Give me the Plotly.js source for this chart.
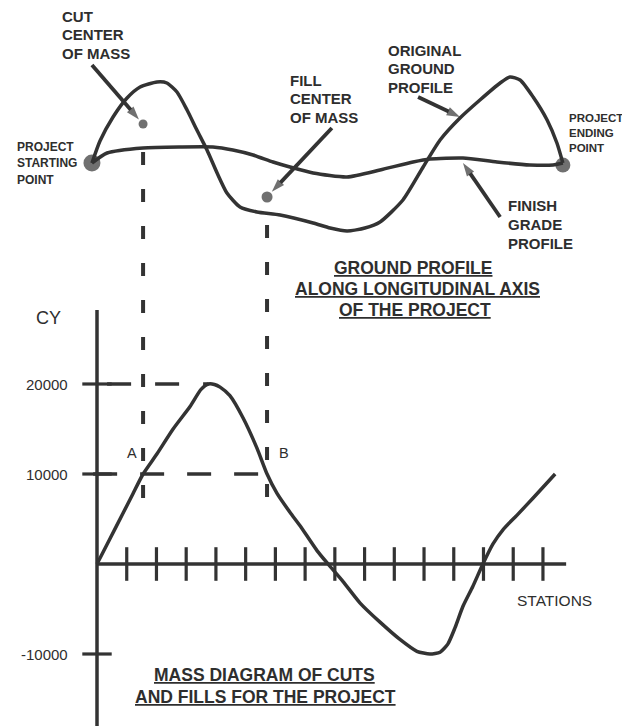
<!DOCTYPE html>
<html>
<head>
<meta charset="utf-8">
<script src="https://cdn.plot.ly/plotly-3.0.1.min.js"></script>
<style>html,body{margin:0;padding:0;background:#fff;}#chart{width:622px;height:726px;}</style>
</head>
<body>
<div id="chart"></div>
<script>
// ---------- DATA ----------
// Mass diagram (stations vs cumulative CY)
const massStations = [0, 0.44, 0.87, 1.21, 1.55, 2.02, 2.56, 3.13, 3.50, 3.75, 3.95, 4.14, 4.47, 4.91, 5.38, 5.72, 6.05, 6.49, 6.83, 7.40, 7.77, 8.27, 8.85, 9.52, 10.19, 10.76, 11.20, 11.54, 11.80, 12.04, 12.31, 12.64, 12.98, 13.32, 13.66, 14.13, 14.67, 15.41];
const massCY = [0, 2840, 5610, 7810, 10000, 12250, 15000, 17500, 19400, 20000, 19950, 19650, 18700, 16250, 12875, 10000, 7870, 5750, 4250, 1490, 0, -1920, -4340, -6460, -8380, -9700, -10000, -9800, -8900, -7100, -4700, -2500, 0, 2230, 3830, 5430, 7340, 10000];
const stationTicks = [1, 2, 3, 4, 5, 6, 7, 8, 9, 10, 11, 12, 13, 14, 15];
const cyTicks = [20000, 10000, -10000];
const cyTickLabels = ["20000", "10000", "-10000"];
const stationAxisEnd = 15.78;
const cyAxisTop = 28222;

// Ground profile (stations vs elevation, arbitrary ft)
const groundStations = [-0.17, 0.10, 0.54, 1.01, 1.45, 2.02, 2.35, 2.69, 3.03, 3.36, 3.70, 4.04, 4.37, 4.81, 5.38, 6.16, 7.27, 7.84, 8.41, 9.01, 9.52, 10.29, 10.97, 11.54, 12.21, 12.88, 13.56, 13.89, 14.23, 14.67, 15.14, 15.47, 15.67];
const groundElev = [100, 111, 123, 132.5, 138, 140.5, 140, 135.5, 126.5, 116.5, 106.5, 95, 85, 78, 75.5, 74, 70, 67.5, 66, 67.5, 70.5, 81.5, 98, 111.5, 122.5, 131.5, 140, 143, 141.5, 133, 121.5, 110, 100];
const gradeStations = [-0.17, 0.34, 1.55, 2.79, 3.90, 4.57, 5.25, 5.92, 6.49, 7.27, 8.41, 9.52, 10.63, 11.20, 12.31, 13.45, 14.56, 15.34, 15.67];
const gradeElev = [100, 105, 107.5, 108, 108, 106.5, 104, 100.5, 98, 95, 93, 96.5, 100.5, 102, 102.5, 100.5, 99, 99, 100];
const endStations = [-0.17, 15.67];
const endElev = [100, 99];
const centerStations = [1.55, 5.72];   // cut / fill centers of mass (A, B)
const centerElev = [119.5, 83];
const guideTopCY = [45778, 37667];
const guideBottomCY = 7333;
// callout arrows: [tailStation, tailElev, tipStation, tipElev]
const arrowCut = [-0.17, 149, 1.41, 121.8];
const arrowFill = [7.90, 117.5, 5.88, 85.6];
const arrowGround = [10.80, 133, 12.21, 123];
const arrowGrade = [13.56, 73, 12.31, 100];

// ---------- STYLE ----------
const INK = "#333333";
const TXT = "#2e2e2e";
const FONT = "Liberation Sans, Arial, Helvetica, sans-serif";

const traces = [];
const skip = {hoverinfo: "skip"};
function line(x, y, extra, yaxis) {
  const t = Object.assign({x: x, y: y, mode: "lines", line: Object.assign({color: INK, width: 3.5}, extra || {})}, skip);
  if (yaxis) t.yaxis = yaxis;
  traces.push(t);
}
// axes of mass diagram
line([0, stationAxisEnd], [0, 0]);
line([0, 0], [cyAxisTop, -18000]);
// station ticks
traces.push(Object.assign({x: stationTicks, y: stationTicks.map(() => 0), mode: "markers",
  marker: {symbol: "line-ns", size: 24, line: {color: INK, width: 3.2}}}, skip));
// CY ticks
traces.push(Object.assign({x: cyTicks.map(() => 0), y: cyTicks, mode: "markers",
  marker: {symbol: "line-ew", size: 21, line: {color: INK, width: 3.2}}}, skip));
// dashed guides
line([0.34, 3.75], [20000, 20000], {dash: "24px,24px"});
line([-0.13, centerStations[1]], [10000, 10000], {dash: "24px,23px"});
for (let i = 0; i < 2; i++) {
  line([centerStations[i], centerStations[i]], [guideTopCY[i], guideBottomCY], {width: 4, dash: "13px,24px"});
}
// mass curve
line(massStations, massCY, {shape: "spline", smoothing: 0.6});
// profiles
line(groundStations, groundElev, {shape: "spline", smoothing: 0.6}, "y2");
line(gradeStations, gradeElev, {shape: "spline", smoothing: 0.6}, "y2");
traces.push(Object.assign({x: endStations, y: endElev, yaxis: "y2", mode: "markers", marker: {color: INK, size: [17, 15], line: {width: 0}}}, skip));
traces.push(Object.assign({x: centerStations, y: centerElev, yaxis: "y2", mode: "markers", marker: {color: INK, size: [9, 11], line: {width: 0}}}, skip));
// callout arrows
[arrowCut, arrowFill, arrowGround, arrowGrade].forEach(a => {
  traces.push(Object.assign({x: [a[0], a[2]], y: [a[1], a[3]], yaxis: "y2", mode: "lines+markers",
    line: {color: INK, width: 3.8},
    marker: {symbol: ["circle", "arrow"], size: [0, 14], angleref: "previous", color: INK, line: {width: 0}}}, skip));
});

// ---------- TEXT ----------
const W = 622, H = 726;
const ann = [];
function label(lines, px, pys, size, bold, anchor) {
  lines.forEach((t, i) => {
    const xx = Array.isArray(px) ? px[i] : px;
    ann.push({xref: "paper", yref: "paper", x: xx / W, y: 1 - pys[i] / H, xanchor: anchor, yanchor: "middle",
      showarrow: false, text: bold ? "<b>" + t + "</b>" : t, font: {family: FONT, size: size, color: TXT}});
  });
}
label(["CUT", "CENTER", "OF MASS"], 60, [17, 35, 53], 15, true, "left");
label(["FILL", "CENTER", "OF MASS"], 288, [80, 99, 117], 15, true, "left");
label(["ORIGINAL", "GROUND", "PROFILE"], 386, [50, 68, 87], 15, true, "left");
label(["PROJECT", "STARTING", "POINT"], 15, [147, 163, 180], 12, true, "left");
label(["PROJECT", "ENDING", "POINT"], 567, [118, 133, 148], 11.5, true, "left");
label(["FINISH", "GRADE", "PROFILE"], 506, [205, 224, 243], 15, true, "left");
label(["<u>GROUND PROFILE</u>", "<u>ALONG LONGITUDINAL AXIS</u>", "<u>OF THE PROJECT</u>"], [413, 417, 415], [268, 289, 310], 17.5, true, "center");
label(["<u>MASS DIAGRAM OF CUTS</u>", "<u>AND FILLS FOR THE PROJECT</u>"], [264, 265.5], [675, 697], 17.5, true, "center");
label(["CY"], 48.5, [318], 18, false, "center");
label(["STATIONS"], 554, [600], 15.5, false, "center");
label(["A"], 132, [453], 14.5, false, "center");
label(["B"], 284, [453], 14.5, false, "center");
cyTicks.forEach((v, i) => {
  ann.push({xref: "paper", yref: "y", x: 70 / W, y: v, xanchor: "right", yanchor: "middle", showarrow: false,
    text: cyTickLabels[i], font: {family: FONT, size: 15, color: TXT}});
});

const layout = {
  width: W, height: H,
  margin: {l: 0, r: 0, t: 0, b: 0},
  paper_bgcolor: "#ffffff", plot_bgcolor: "#ffffff",
  showlegend: false,
  xaxis: {range: [-3.2627, 17.659], visible: false, fixedrange: true},
  yaxis: {range: [-18000, 62667], visible: false, fixedrange: true},
  yaxis2: {range: [-181.5, 181.5], overlaying: "y", visible: false, fixedrange: true},
  annotations: ann
};
Plotly.newPlot("chart", traces, layout, {staticPlot: true, displayModeBar: false});
</script>
</body>
</html>
